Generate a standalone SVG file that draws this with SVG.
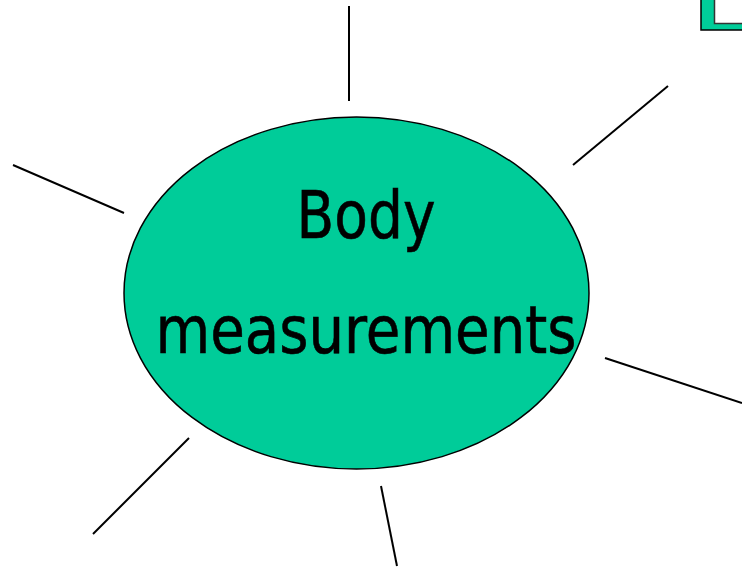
<svg xmlns="http://www.w3.org/2000/svg" width="742" height="568" viewBox="0 0 742 568">
<style>
.conn line { stroke: #000; stroke-width: 2; stroke-linecap: butt; }
.label { font-family: "Comic Sans MS", "DejaVu Sans", sans-serif; font-size: 65px; fill: #000; stroke: #000; stroke-width: 0.6; text-anchor: middle; }
</style>
<rect width="742" height="568" fill="#fff"/>
<g id="corner-node">
  <rect x="701" y="-20" width="60" height="50" fill="#00CC99" stroke="#000" stroke-width="1.5"/>
  <rect x="714.5" y="-20" width="40" height="43.5" fill="#fff" stroke="#333" stroke-width="1.5"/>
</g>
<g id="connectors" class="conn">
  <line x1="349" y1="6" x2="349" y2="101"/>
  <line x1="668" y1="86" x2="573" y2="165"/>
  <line x1="13" y1="165" x2="124" y2="213"/>
  <line x1="605" y1="358" x2="742" y2="403"/>
  <line x1="189" y1="438" x2="93" y2="534"/>
  <line x1="381" y1="486" x2="397" y2="566"/>
</g>
<g id="body-measurements">
  <ellipse cx="356.5" cy="293" rx="232.5" ry="176" fill="#00CC99" stroke="#000" stroke-width="1.5"/>
  <text class="label" x="366" y="238" textLength="139" lengthAdjust="spacingAndGlyphs">Body</text>
  <text class="label" x="366" y="353" textLength="421" lengthAdjust="spacingAndGlyphs">measurements</text>
</g>
</svg>
